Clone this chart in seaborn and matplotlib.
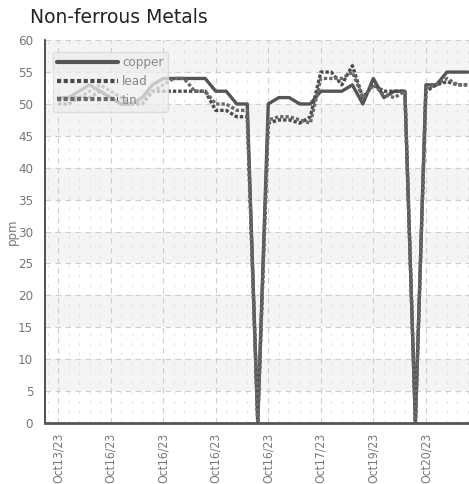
import matplotlib
matplotlib.use("Agg")
import matplotlib.pyplot as plt
from matplotlib.ticker import MultipleLocator, FixedLocator
from matplotlib import font_manager
import seaborn as sns
import pandas as pd

copper = [51, 51, 52, 53, 52, 51, 50, 50, 51, 53,
          54, 54, 54, 54, 54, 52, 52, 50, 50, 0,
          50, 51, 51, 50, 50, 52, 52, 52, 53, 50,
          54, 51, 52, 52, 0, 53, 53, 55, 55, 55]
lead = [50, 50, 51, 51, 52, 51, 50, 50, 50, 52,
        52, 52, 52, 52, 52, 49, 49, 48, 48, 0,
        47, 47.5, 47.5, 47, 48, 55, 55, 53, 56, 51,
        53, 52, 52, 52, 0, 52, 53, 53.5, 53, 53]
tin = [50.5, 51, 51, 52, 53, 52, 51, 50, 51, 52,
       53, 54, 54, 52, 52, 50, 50, 49, 49, 0,
       47.5, 48, 48, 47.5, 47, 54, 54, 54, 55, 51,
       53, 51.5, 51, 52, 0, 52.5, 53, 54, 53, 53]
metals = ["copper", "lead", "tin"]
tick_labels = ["Oct13/23", "Oct16/23", "Oct16/23", "Oct16/23",
               "Oct16/23", "Oct17/23", "Oct19/23", "Oct20/23"]
title = "Non-ferrous Metals"
ylabel = "ppm"

n = len(copper)
df = pd.DataFrame({
    "idx": list(range(n)) * 3,
    "ppm": copper + lead + tin,
    "metal": ["copper"] * n + ["lead"] * n + ["tin"] * n,
})

sns.set_style("white")
plt.rcParams['font.family'] = ['DejaVu Sans']

names = {f.name for f in font_manager.fontManager.ttflist}
narrow = 'Liberation Sans Narrow' if 'Liberation Sans Narrow' in names else 'DejaVu Sans'
cond_family = [narrow, 'DejaVu Sans']

fig = plt.figure(figsize=(4.69, 4.84), dpi=100)
ax = fig.add_axes([0.096, 0.126, 0.904, 0.791])

# alternating bands
for lo in range(5, 60, 10):
    ax.axhspan(lo, lo + 5, color="#f4f4f4", zorder=0, lw=0)

palette = {"copper": "#555555", "lead": "#4a4a4a", "tin": "#6a6a6a"}
dashes = {"copper": "", "lead": (1, 0.6), "tin": (1, 0.6)}
sns.lineplot(data=df, x="idx", y="ppm", hue="metal", style="metal",
             palette=palette, dashes=dashes, linewidth=2.4, ax=ax,
             hue_order=metals, style_order=metals)

ax.set_xlim(-1.24, 39.1)
ax.set_ylim(0, 60)
ax.yaxis.set_major_locator(MultipleLocator(5))
major_pos = list(range(0, n, 5))
ax.xaxis.set_major_locator(FixedLocator(major_pos))
ax.xaxis.set_minor_locator(MultipleLocator(1))
ax.set_xticklabels(tick_labels, rotation=90)

ax.grid(True, which="major", axis="both", linestyle=(0, (5, 4)),
        color="#cfcfcf", linewidth=0.8)
ax.grid(True, which="minor", axis="x", linestyle=(0, (3, 7)),
        color="#e2e2e2", linewidth=0.7)
ax.set_axisbelow(True)

for s in ["top", "right"]:
    ax.spines[s].set_visible(False)
ax.spines["left"].set_color("#333333")
ax.spines["left"].set_linewidth(1.2)
ax.spines["bottom"].set_color("#555555")
ax.spines["bottom"].set_linewidth(2.0)

ax.tick_params(axis="both", which="major", direction="out", length=5,
               width=1.2, colors="#333333", labelcolor="#777777")
ax.tick_params(axis="x", which="major", pad=2)
ax.tick_params(axis="x", which="minor", length=0)
for lab in ax.get_xticklabels():
    lab.set_family(cond_family)
    lab.set_stretch('condensed')
    lab.set_fontsize(8.7)
for lab in ax.get_yticklabels():
    lab.set_family(cond_family)
    lab.set_stretch('condensed')
    lab.set_fontsize(9.5)

ax.set_xlabel("")
ax.set_ylabel(ylabel, color="#777777", fontsize=8.5, family=cond_family)
ax.yaxis.set_label_coords(-0.062, 0.5)
fig.text(0.064, 0.963, title, fontsize=13.5, color="#222222", ha="left",
         va="center")

leg = ax.legend(loc="upper left", bbox_to_anchor=(0.012, 0.977),
                handlelength=4.6, handletextpad=0.3, labelspacing=0.45,
                frameon=True, fancybox=True, framealpha=0.75,
                borderpad=0.35, borderaxespad=0.2,
                prop={"family": cond_family, "size": 9.5,
                      "stretch": "condensed"})
leg.get_frame().set_facecolor("#eeeeee")
leg.get_frame().set_edgecolor("#d8d8d8")
for t in leg.get_texts():
    t.set_color("#888888")
for h in leg.get_lines():
    h.set_linewidth(3)

fig.savefig("out.png", dpi=100)
